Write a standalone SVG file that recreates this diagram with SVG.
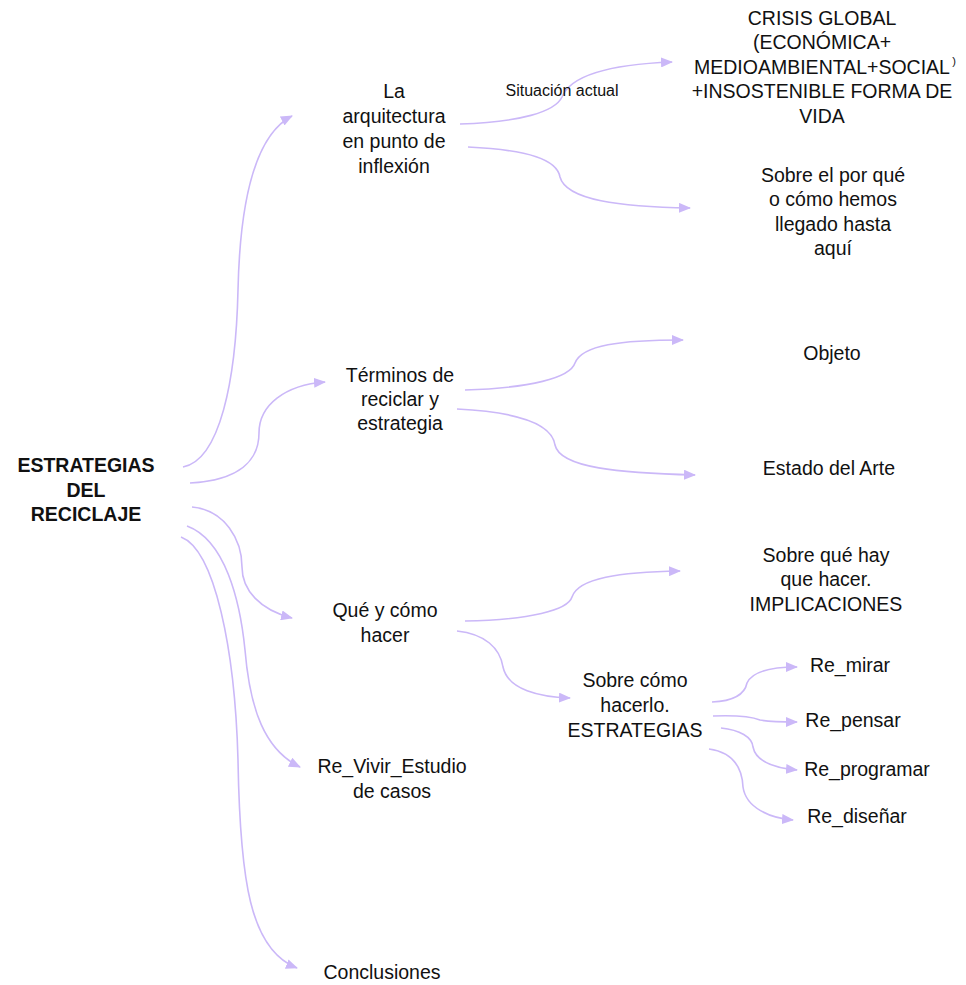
<svg xmlns="http://www.w3.org/2000/svg" width="966" height="985" viewBox="0 0 966 985">
<defs>
<marker id="ah" markerUnits="userSpaceOnUse" markerWidth="12" markerHeight="10" refX="11" refY="5" orient="auto">
<path d="M0,0 L12,5 L0,10 z" fill="#cbb8f8"/>
</marker>
<style>
.c{fill:none;stroke:#cbb8f8;stroke-width:1.6;marker-end:url(#ah)}
.t{font-family:"Liberation Sans",Arial,sans-serif;font-size:19.5px;fill:#111;text-anchor:middle}
.r{font-weight:bold}
.s{font-size:16px}
</style>
</defs>
<rect width="966" height="985" fill="#fff"/>
<g id="connectors">
<path class="c" d="M183,467 C220,460 236,380 238,290 C240,200 255,135 292,116"/>
<path class="c" d="M190,483 C240,480 259,460 259,433 C259,405 285,385 325,382"/>
<path class="c" d="M192,507 C225,510 242,540 242,567 C242,590 260,610 292,618"/>
<path class="c" d="M187,526 C225,540 240,600 245,650 C250,710 265,750 300,767"/>
<path class="c" d="M181,537 C215,550 235,650 238,760 C240,880 250,950 297,968"/>
<path class="c" d="M460,124 C520,122 555,112 562,97 C572,72 620,64 672,62"/>
<path class="c" d="M468,147 C530,150 557,160 560,177 C566,200 620,207 690,208"/>
<path class="c" d="M465,390 C530,388 570,378 575,363 C582,345 620,340 683,340"/>
<path class="c" d="M457,409 C520,412 552,425 555,445 C560,468 620,473 695,475"/>
<path class="c" d="M465,621 C530,620 568,610 572,597 C578,578 620,572 680,571"/>
<path class="c" d="M457,631 C485,634 500,648 503,667 C508,690 540,697 570,698"/>
<path class="c" d="M712,702 C735,701 745,693 747,683 C752,672 770,667 797,667"/>
<path class="c" d="M713,716 C740,715 755,718 760,720 C770,722 780,722 797,722"/>
<path class="c" d="M721,728 C740,730 752,737 753,747 C756,762 775,768 797,770"/>
<path class="c" d="M709,749 C730,752 742,765 743,787 C746,808 770,818 793,820"/>
</g>
<g id="root"><text class="t r" x="86" y="472">ESTRATEGIAS</text><text class="t r" x="86" y="497">DEL</text><text class="t r" x="86" y="521">RECICLAJE</text></g>
<g id="arquitectura"><text class="t" x="394" y="98">La</text><text class="t" x="394" y="123">arquitectura</text><text class="t" x="394" y="148">en punto de</text><text class="t" x="394" y="173">inflexión</text></g>
<g id="situacion"><text class="t s" x="562" y="96">Situación actual</text></g>
<g id="crisis"><text class="t" x="822" y="25">CRISIS GLOBAL</text><text class="t" x="822" y="49">(ECONÓMICA+</text><text class="t" x="822" y="74">MEDIOAMBIENTAL+SOCIAL</text><text class="t" x="954" y="65" style="font-size:11px">)</text><text class="t" x="822" y="98">+INSOSTENIBLE FORMA DE</text><text class="t" x="822" y="123">VIDA</text></g>
<g id="porque"><text class="t" x="833" y="182">Sobre el por qué</text><text class="t" x="833" y="206">o cómo hemos</text><text class="t" x="833" y="231">llegado hasta</text><text class="t" x="833" y="255">aquí</text></g>
<g id="terminos"><text class="t" x="400" y="382">Términos de</text><text class="t" x="400" y="406">reciclar y</text><text class="t" x="400" y="430">estrategia</text></g>
<g id="objeto"><text class="t" x="832" y="360">Objeto</text></g>
<g id="estado"><text class="t" x="829" y="475">Estado del Arte</text></g>
<g id="que"><text class="t" x="385" y="617">Qué y cómo</text><text class="t" x="385" y="642">hacer</text></g>
<g id="implicaciones"><text class="t" x="826" y="562">Sobre qué hay</text><text class="t" x="826" y="586">que hacer.</text><text class="t" x="826" y="611">IMPLICACIONES</text></g>
<g id="como"><text class="t" x="635" y="687">Sobre cómo</text><text class="t" x="635" y="712">hacerlo.</text><text class="t" x="635" y="737">ESTRATEGIAS</text></g>
<g id="mirar"><text class="t" x="850" y="672">Re_mirar</text></g>
<g id="pensar"><text class="t" x="853" y="727">Re_pensar</text></g>
<g id="programar"><text class="t" x="867" y="776">Re_programar</text></g>
<g id="disenar"><text class="t" x="857" y="823">Re_diseñar</text></g>
<g id="revivir"><text class="t" x="392" y="773">Re_Vivir_Estudio</text><text class="t" x="392" y="798">de casos</text></g>
<g id="conclusiones"><text class="t" x="382" y="979">Conclusiones</text></g>
</svg>
